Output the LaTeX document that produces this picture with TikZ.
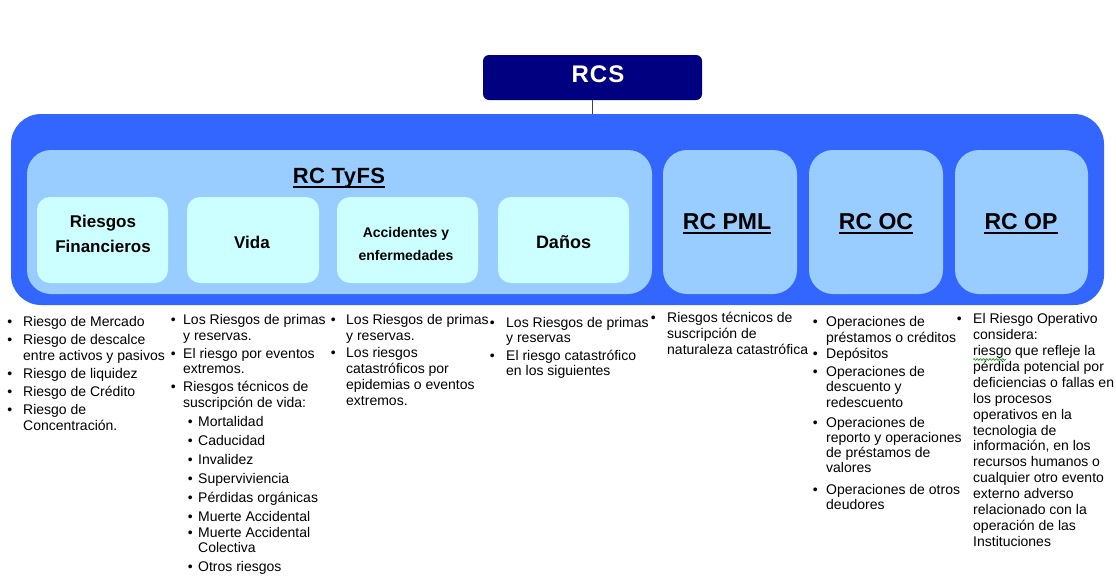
\documentclass[tikz,border=0pt]{standalone}
\usepackage{fontspec}
\setmainfont{Liberation Sans}
\usetikzlibrary{decorations.pathmorphing}
\definecolor{navybox}{HTML}{000080}
\definecolor{outerblue}{HTML}{3366FF}
\definecolor{midblue}{HTML}{99CCFF}
\definecolor{palecyan}{HTML}{CCFFFF}
\newcommand\bl[1]{\llap{\textbullet\hspace{#1pt}}}
\newcommand\fst{\rule{0pt}{13pt}}
\begin{document}
\begin{tikzpicture}[x=1pt,y=-1pt,
  panel/.style={fill=#1, draw=none, inner sep=0pt},
  bigpanel/.style={panel=midblue, rounded corners=24pt, minimum height=144pt},
  smallpanel/.style={panel=palecyan, rounded corners=13pt, minimum height=86pt},
  head/.style={inner sep=0pt, anchor=base, font=\bfseries\fontsize{23}{26}\selectfont},
  sub/.style={inner sep=0pt, font=\bfseries\fontsize{17}{25}\selectfont, align=center},
  ul/.style={line width=2.4pt, black},
  lst/.style={inner sep=0pt, anchor=north west, align=left, text=black}]
\useasboundingbox (0,0) rectangle (1116,587);

% top box
\node[panel=navybox, rounded corners=6pt, minimum width=219pt, minimum height=45pt] (rcs) at (592.5,77.5) {};
\node[inner sep=0pt, anchor=base, text=white, font=\bfseries\fontsize{24}{28}\selectfont\addfontfeature{LetterSpace=4}] (rcst) at (598,82) {RCS};

% outer container
\node[panel=outerblue, rounded corners=30pt, minimum width=1093pt, minimum height=191pt] (outer) at (557.5,209.5) {};
\draw[line width=1.3pt, black!75] (rcs.south) -- (rcs.south |- outer.north);

% second level panels
\node[bigpanel, minimum width=625pt] (tyfs) at (339.5,222) {};
\node[bigpanel, minimum width=134pt] (pml) at (730,222) {};
\node[bigpanel, minimum width=134pt] (oc) at (876,222) {};
\node[bigpanel, minimum width=133pt] (op) at (1021.5,222) {};

% inner panels
\node[smallpanel, minimum width=131pt] (rf) at (102.5,240) {};
\node[smallpanel, minimum width=132pt] (vida) at (253,240) {};
\node[smallpanel, minimum width=141pt] (acc) at (407.5,240) {};
\node[smallpanel, minimum width=131pt] (dan) at (563.5,240) {};

% headings
\node[head, font=\bfseries\fontsize{22}{26}\selectfont\addfontfeature{LetterSpace=2}] (tyfst) at (339,183) {RC TyFS};
\draw[ul] ([yshift=-4pt]tyfst.base west) -- ([yshift=-4pt]tyfst.base east);
\node[head] (pmlt) at (727,229) {RC PML};
\draw[ul] ([yshift=-4pt]pmlt.base west) -- ([yshift=-4pt]pmlt.base east);
\node[head] (oct) at (876,229) {RC OC};
\draw[ul] ([yshift=-4pt]oct.base west) -- ([yshift=-4pt]oct.base east);
\node[head] (opt) at (1021,229) {RC OP};
\draw[ul] ([yshift=-4pt]opt.base west) -- ([yshift=-4pt]opt.base east);

% inner labels
\node[sub] (rft) at (103,234) {Riesgos\\Financieros};
\node[sub, anchor=base] (vidat) at (252,248) {Vida};
\node[sub, font=\bfseries\fontsize{14}{23.4}\selectfont] (acct) at (406,244) {Accidentes y\\enfermedades};
\node[sub, anchor=base, font=\bfseries\fontsize{18}{25}\selectfont] (dant) at (563.5,248) {Daños};

% lists
\node[lst, font=\fontsize{14}{16}\selectfont] (c1) at (23,313.5) {%
\fst\bl{11}Riesgo de Mercado\\[2pt]
\bl{11}Riesgo de descalce\\
entre activos y pasivos\\[2pt]
\bl{11}Riesgo de liquidez\\[2pt]
\bl{11}Riesgo de Crédito\\[2pt]
\bl{11}Riesgo de\\
Concentración.};

\node[lst, font=\fontsize{14}{15.5}\selectfont] (c2) at (183,311.5) {%
\fst\bl{7.5}Los Riesgos de primas\\
y reservas.\\[2.5pt]
\bl{7.5}El riesgo por eventos\\
extremos.\\[2.5pt]
\bl{7.5}Riesgos técnicos de\\
suscripción de vida:\\[3.5pt]
\hspace*{15pt}\bl{5.5}Mortalidad\\[3.5pt]
\hspace*{15pt}\bl{5.5}Caducidad\\[3.5pt]
\hspace*{15pt}\bl{5.5}Invalidez\\[3.5pt]
\hspace*{15pt}\bl{5.5}Superviviencia\\[3.5pt]
\hspace*{15pt}\bl{5.5}Pérdidas orgánicas\\[3.5pt]
\hspace*{15pt}\bl{5.5}Muerte Accidental\\[0.5pt]
\hspace*{15pt}\bl{5.5}Muerte Accidental\\
\hspace*{15pt}Colectiva\\[3.5pt]
\hspace*{15pt}\bl{5.5}Otros riesgos};

\node[lst, font=\fontsize{14}{16}\selectfont] (c3) at (346,311.5) {%
\fst\bl{10.5}Los Riesgos de primas\\
y reservas.\\[1pt]
\bl{10.5}Los riesgos\\
catastróficos por\\
epidemias o eventos\\
extremos.};

\node[lst, font=\fontsize{14}{15}\selectfont] (c4) at (506,314.5) {%
\fst\bl{11.5}Los Riesgos de primas\\
y reservas\\[3pt]
\bl{11.5}El riesgo catastrófico\\
en los siguientes};

\node[lst, font=\fontsize{14}{16}\selectfont] (c5) at (667,309.5) {%
\fst\bl{11.5}Riesgos técnicos de\\
suscripción de\\
naturaleza catastrófica};

\node[lst, font=\fontsize{14}{15.3}\selectfont] (c6) at (826,313.5) {%
\fst\bl{8.5}Operaciones de\\
préstamos o créditos\\[1pt]
\bl{8.5}Depósitos\\[3pt]
\bl{8.5}Operaciones de\\
descuento y\\
redescuento\\[4.5pt]
\bl{8.5}Operaciones de\\
reporto y operaciones\\
de préstamos de\\
valores\\[6pt]
\bl{8.5}Operaciones de otros\\
deudores};

\node[lst, font=\fontsize{14}{15.9}\selectfont] (c7) at (973,310.5) {%
\fst\bl{11.5}El Riesgo Operativo\\
considera:\\
riesgo que refleje la\\
pérdida potencial por\\
deficiencias o fallas en\\
los procesos\\
operativos en la\\
tecnologia de\\
información, en los\\
recursos humanos o\\
cualquier otro evento\\
externo adverso\\
relacionado con la\\
operación de las\\
Instituciones};

\coordinate (sq1) at (973,359.5);
\coordinate (sq2) at (1006,359.5);
\draw[green!55!black, line width=0.6pt, decorate, decoration={snake, amplitude=0.9pt, segment length=3.2pt}] (sq1) -- (sq2);
\end{tikzpicture}
\end{document}
